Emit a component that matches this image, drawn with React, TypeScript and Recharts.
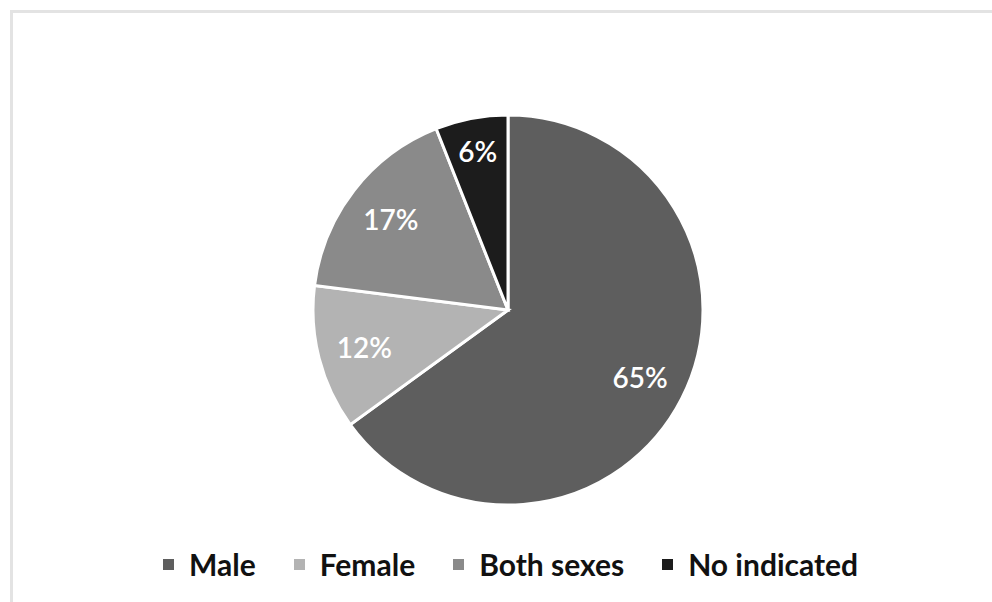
import React from 'react';
import { PieChart, Pie, Cell, Legend } from 'recharts';

const categories = ['Male', 'Female', 'Both sexes', 'No indicated'];
const shares = [65, 12, 17, 6];
const colors = ['#5e5e5e', '#b3b3b3', '#8a8a8a', '#1c1c1c'];

const data = categories.map((name, i) => ({ name, value: shares[i] }));

const RADIAN = Math.PI / 180;

// Excel pushes labels of thin slices further out
const renderLabel = (props: any) => {
  const { cx, cy, midAngle, outerRadius, percent, value } = props;
  const f = percent < 0.1 ? 0.83 : 0.76;
  const r = outerRadius * f;
  const x = cx + r * Math.cos(-midAngle * RADIAN);
  const y = cy + r * Math.sin(-midAngle * RADIAN);
  return (
    <text
      x={x}
      y={y}
      fill="#ffffff"
      textAnchor="middle"
      dominantBaseline="central"
      fontSize={28}
      fontWeight={600}
      fontFamily="Lato, sans-serif"
    >
      {`${value}%`}
    </text>
  );
};

const renderLegend = () => (
  <div
    style={{
      display: 'flex',
      alignItems: 'center',
      paddingLeft: 163,
      fontFamily: 'Lato, sans-serif',
      fontWeight: 700,
      fontSize: 30,
      color: '#111111',
      lineHeight: '32px',
    }}
  >
    {categories.map((c, i) => (
      <div key={c} style={{ display: 'flex', alignItems: 'center', marginRight: 38 }}>
        <span
          style={{
            display: 'inline-block',
            width: 11,
            height: 11,
            background: colors[i],
            marginRight: 15,
          }}
        />
        <span>{c}</span>
      </div>
    ))}
  </div>
);

export default function App() {
  return (
    <div
      style={{
        position: 'fixed',
        left: 0,
        top: 0,
        width: 992,
        height: 602,
        overflow: 'hidden',
        background: '#ffffff',
      }}
    >
      <div
        style={{
          position: 'absolute',
          left: 10,
          top: 10,
          width: 1000,
          height: 700,
          border: '3px solid #e3e3e3',
        }}
      />
      <div style={{ position: 'absolute', left: 0, top: 0 }}>
        <PieChart width={992} height={602}>
          <Pie
            data={data}
            dataKey="value"
            nameKey="name"
            cx={503}
            cy={305}
            outerRadius={195}
            startAngle={90}
            endAngle={-270}
            stroke="#ffffff"
            strokeWidth={3}
            label={renderLabel}
            labelLine={false}
            isAnimationActive={false}
          >
            {data.map((d, i) => (
              <Cell key={d.name} fill={colors[i]} />
            ))}
          </Pie>
          <Legend
            content={renderLegend}
            wrapperStyle={{ top: 548, left: 0, width: 992 }}
          />
        </PieChart>
      </div>
    </div>
  );
}
